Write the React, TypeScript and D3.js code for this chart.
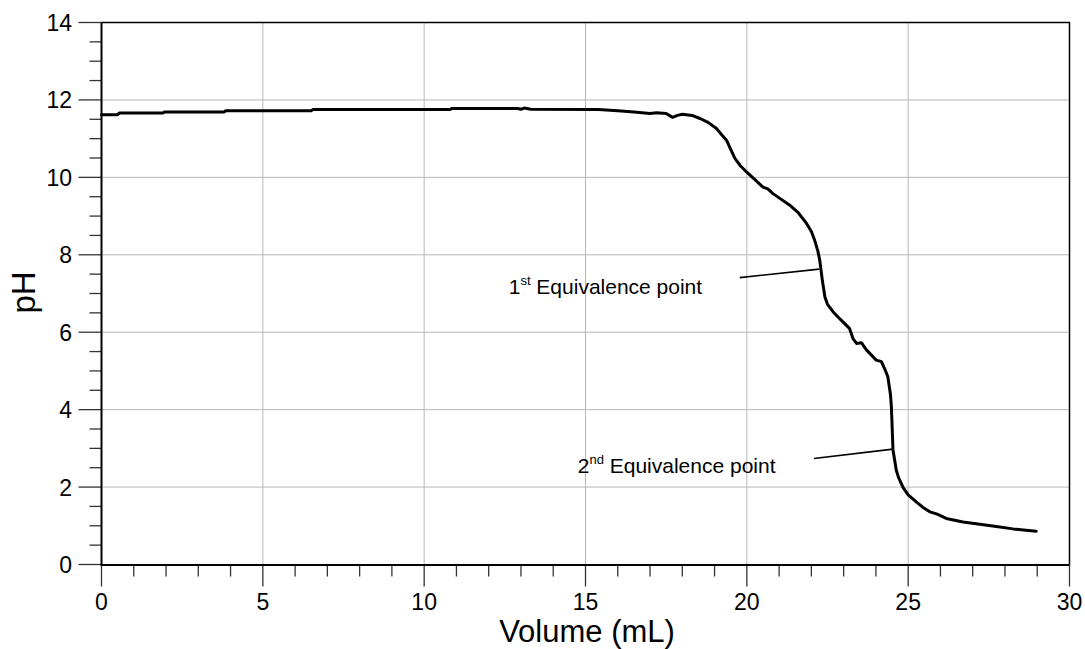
import { useEffect, useRef } from "react";
import * as d3 from "d3";

// titration curve
const volume = [
  0, 0.5, 0.55, 1.9, 1.95, 3.8, 3.85, 6.5, 6.55, 10.8, 10.85, 12.9, 13.0, 13.1,
  13.3, 15.4, 16.0, 16.5, 17.0, 17.2, 17.5, 17.7, 17.85, 18.0, 18.3, 18.55,
  18.8, 19.06, 19.2, 19.37, 19.5, 19.63, 19.8, 19.99, 20.2, 20.5, 20.65, 20.81,
  21.0, 21.33, 21.6, 21.85, 22.0, 22.1, 22.2, 22.26, 22.34, 22.42, 22.5, 22.67,
  22.9, 23.18, 23.3, 23.4, 23.55, 23.7, 24.01, 24.17, 24.3, 24.37, 24.45, 24.48,
  24.53, 24.6, 24.63, 24.7, 24.84, 25.0, 25.25, 25.45, 25.67, 25.9, 26.18, 26.7,
  27.22, 27.73, 28.25, 28.97,
];
const ph = [
  11.62, 11.62, 11.66, 11.66, 11.69, 11.69, 11.72, 11.72, 11.75, 11.75, 11.78,
  11.78, 11.76, 11.79, 11.76, 11.75, 11.72, 11.69, 11.65, 11.67, 11.65, 11.55,
  11.6, 11.63, 11.6, 11.52, 11.42, 11.26, 11.12, 10.96, 10.72, 10.49, 10.3,
  10.14, 9.98, 9.75, 9.7, 9.58, 9.47, 9.28, 9.08, 8.81, 8.6, 8.38, 8.1, 7.86,
  7.34, 6.91, 6.72, 6.53, 6.33, 6.1, 5.82, 5.71, 5.73, 5.55, 5.28, 5.24, 5.0,
  4.85, 4.4, 4.07, 2.96, 2.6, 2.44, 2.25, 1.99, 1.8, 1.62, 1.48, 1.36, 1.3,
  1.19, 1.1, 1.04, 0.98, 0.92, 0.86,
];

const xTicks = [0, 5, 10, 15, 20, 25, 30];
const yTicks = [0, 2, 4, 6, 8, 10, 12, 14];

const annotations = [
  { num: "1", sup: "st", rest: " Equivalence point", tx: 12.62, ty: 7.0, x1: 19.78, y1: 7.41, x2: 22.24, y2: 7.63 },
  { num: "2", sup: "nd", rest: " Equivalence point", tx: 14.76, ty: 2.37, x1: 22.08, y1: 2.74, x2: 24.53, y2: 2.98 },
];

export default function App() {
  const svgRef = useRef<SVGSVGElement | null>(null);

  useEffect(() => {
    const width = 1085;
    const height = 649;
    const svg = d3.select(svgRef.current).attr("width", width).attr("height", height);
    svg.selectAll("*").remove();

    const font = "'Liberation Sans', Arial, sans-serif";
    const x = d3.scaleLinear().domain([0, 30]).range([101.5, 1069.5]);
    const y = d3.scaleLinear().domain([0, 14]).range([564.5, 22.5]);

    // grid
    svg
      .append("g")
      .selectAll("line")
      .data(xTicks.slice(1, -1))
      .join("line")
      .attr("x1", (d) => x(d))
      .attr("x2", (d) => x(d))
      .attr("y1", y(14))
      .attr("y2", y(0))
      .attr("stroke", "#b8b8b8")
      .attr("stroke-width", 1);
    svg
      .append("g")
      .selectAll("line")
      .data(yTicks.slice(1, -1))
      .join("line")
      .attr("x1", x(0))
      .attr("x2", x(30))
      .attr("y1", (d) => y(d))
      .attr("y2", (d) => y(d))
      .attr("stroke", "#b8b8b8")
      .attr("stroke-width", 1);

    // top / right frame
    svg
      .append("path")
      .attr("d", `M${x(0)},${y(14)}H${x(30)}V${y(0)}`)
      .attr("fill", "none")
      .attr("stroke", "#000")
      .attr("stroke-width", 1.5);

    // minor + major ticks
    const xMinor = d3.range(0, 31, 1);
    const yMinor = d3.range(0, 14.01, 0.5);
    svg
      .append("g")
      .selectAll("line")
      .data(xMinor)
      .join("line")
      .attr("x1", (d) => x(d))
      .attr("x2", (d) => x(d))
      .attr("y1", y(0))
      .attr("y2", (d) => (d % 5 === 0 ? y(0) + 22 : y(0) + 12))
      .attr("stroke", "#333")
      .attr("stroke-width", 1.3);
    svg
      .append("g")
      .selectAll("line")
      .data(yMinor)
      .join("line")
      .attr("y1", (d) => y(d))
      .attr("y2", (d) => y(d))
      .attr("x1", x(0))
      .attr("x2", (d) => (d % 2 === 0 ? x(0) - 23 : x(0) - 12))
      .attr("stroke", "#333")
      .attr("stroke-width", 1.3);

    // axis lines
    svg
      .append("path")
      .attr("d", `M${x(0)},${y(14)}V${y(0) + 0.5}H${x(30)}`)
      .attr("fill", "none")
      .attr("stroke", "#000")
      .attr("stroke-width", 2);

    // tick labels
    svg
      .append("g")
      .selectAll("text")
      .data(xTicks)
      .join("text")
      .attr("x", (d) => x(d))
      .attr("y", 610)
      .attr("text-anchor", "middle")
      .attr("font-family", font)
      .attr("font-size", 23)
      .attr("fill", "#000")
      .text((d) => d);
    svg
      .append("g")
      .selectAll("text")
      .data(yTicks)
      .join("text")
      .attr("x", 72)
      .attr("y", (d) => y(d) + 8.5)
      .attr("text-anchor", "end")
      .attr("font-family", font)
      .attr("font-size", 23)
      .attr("fill", "#000")
      .text((d) => d);

    // axis titles
    svg
      .append("text")
      .attr("x", 587)
      .attr("y", 642)
      .attr("text-anchor", "middle")
      .attr("font-family", font)
      .attr("font-size", 31)
      .text("Volume (mL)");
    svg
      .append("text")
      .attr("transform", `translate(35,${y(7) - 1}) rotate(-90)`)
      .attr("text-anchor", "middle")
      .attr("font-family", font)
      .attr("font-size", 33)
      .text("pH");

    // curve
    const pts: [number, number][] = volume.map((v, i) => [v, ph[i]]);
    svg
      .append("path")
      .datum(pts)
      .attr("fill", "none")
      .attr("stroke", "#000")
      .attr("stroke-width", 3)
      .attr("stroke-linejoin", "round")
      .attr("stroke-linecap", "round")
      .attr("d", d3.line<[number, number]>().x((d) => x(d[0])).y((d) => y(d[1])));

    // annotations
    annotations.forEach((a) => {
      svg
        .append("line")
        .attr("x1", x(a.x1))
        .attr("y1", y(a.y1))
        .attr("x2", x(a.x2))
        .attr("y2", y(a.y2))
        .attr("stroke", "#000")
        .attr("stroke-width", 1.6);
      const t = svg
        .append("text")
        .attr("x", x(a.tx))
        .attr("y", y(a.ty))
        .attr("font-family", font)
        .attr("font-size", 21)
        .attr("fill", "#000");
      t.append("tspan").text(a.num);
      t.append("tspan").attr("font-size", 13).attr("dy", -9).text(a.sup);
      t.append("tspan").attr("dy", 9).text(a.rest);
    });
  }, []);

  return (
    <div style={{ position: "absolute", left: 0, top: 0, background: "#fff" }}>
      <svg ref={svgRef} style={{ display: "block" }}></svg>
    </div>
  );
}
